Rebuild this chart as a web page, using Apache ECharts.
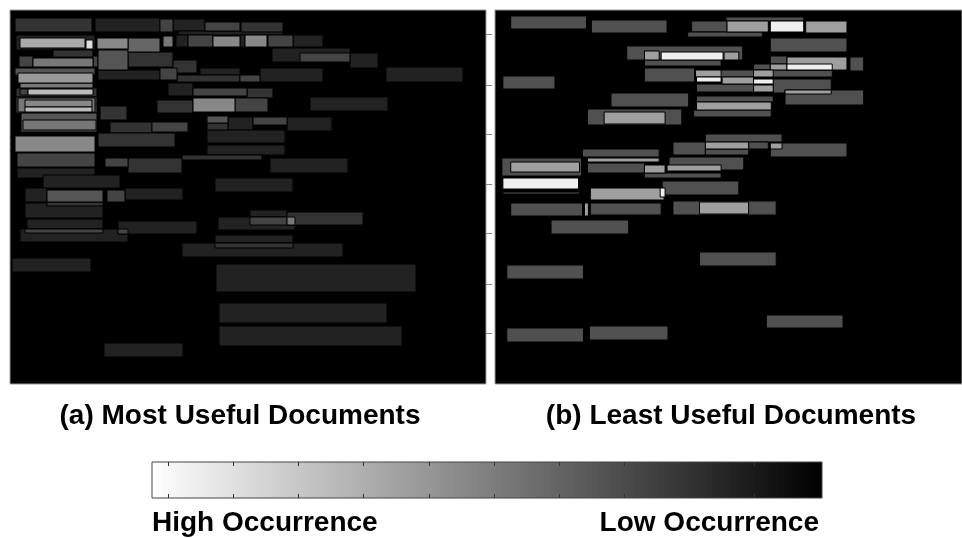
<!DOCTYPE html>
<html>
<head>
<meta charset="utf-8">
<script src="https://cdn.jsdelivr.net/npm/echarts@6/dist/echarts.min.js"></script>
<style>
html,body{margin:0;padding:0;background:#fff;}
#chart{width:962px;height:538px;}
</style>
</head>
<body>
<div id="chart"></div>
<script>
// Occurrence regions [x0, y0, x1, y1, occurrence] (page-position units)
const mostUsefulRegions = [
  [15,18,92,32,3],[95,18,160,32,2],[160,19,173,32,4],[173,19,205,31,2],[205,22,240,31,4],[241,22,283,32,3],[178,31,283,35,2],
  [16,35,95,50,2],[20,38,85,48,10],[86,40,93,49,13],[97,38,128,49,8],[128,38,160,52,6],[163,36,173,47,7],[176,35,188,47,2],
  [188,35,213,47,4],[213,36,240,47,8],[240,35,245,47,2],[245,35,267,47,8],[268,35,293,47,4],[293,35,323,47,2],
  [53,50,93,57,3],
  [272,48,350,62,2],[300,53,350,62,4],[350,53,378,68,2],[19,56,33,67,4],[33,58,93,67,7],[93,56,98,67,4],[98,50,128,70,5],
  [128,52,173,67,3],[173,60,197,73,3],
  [15,68,95,75,5],[18,73,93,83,9],[20,83,93,88,7],[98,70,160,80,2],[160,68,177,80,4],[177,75,240,82,3],[200,68,240,75,2],[240,75,260,82,4],
  [260,68,323,82,2],[386,67,463,82,2],
  [16,88,97,97,3],[20,89,28,95,4],[28,89,93,95,11],[168,83,193,96,2],[193,88,247,96,4],[247,88,273,98,3],
  [16,97,97,113,4],[18,98,95,112,7],[25,100,92,107,8],[25,107,92,112,11],[100,106,127,120,3],[157,100,193,113,3],[193,98,235,112,8],
  [235,98,268,112,4],[310,97,388,111,2],
  [21,113,97,132,5],[23,120,96,130,7],[110,122,152,133,3],[152,122,188,132,4],[207,116,228,123,5],[207,123,228,130,3],
  [253,117,287,125,4],[287,117,332,131,2],[228,117,253,130,2],
  [15,136,95,152,8],[98,133,175,147,3],[207,130,285,143,2],
  [17,153,95,167,4],[105,158,128,167,4],[128,158,182,173,3],[207,145,285,155,2],[182,155,262,160,3],[270,158,348,173,2],
  [17,168,95,178,2],[43,175,120,188,2],[215,178,293,192,2],[25,188,47,202,2],[47,190,103,202,5],[47,202,103,206,3],
  [107,190,125,202,4],[125,188,183,200,2],
  [25,203,103,218,2],[27,219,103,229,2],[20,229,128,242,2],[25,229,103,233,4],[118,221,197,234,2],[118,229,128,234,4],
  [250,210,287,217,2],[287,212,363,225,3],[218,217,295,230,2],[250,217,287,225,4],[287,217,295,225,7],
  [215,235,293,243,2],[182,243,343,257,2],[215,243,293,248,3],
  [12,258,91,272,2],[216,264,416,292,2],[219,303,387,323,2],[219,326,402,346,2],[104,343,183,357,2]
];
const leastUsefulRegions = [
  [511,16,588,29,1],[593,20,670,33,1],[730,17,809,21,1],[695,21,731,32,1],[691,32,767,37,1],[775,38,853,52,1],
  [629,46,747,60,1],[647,60,725,66,1],[647,68,698,82,1],[775,56,792,64,1],[856,57,870,71,1],[758,64,775,70,1],
  [699,70,838,77,1],[700,84,758,92,1],[778,79,837,93,1],[790,90,870,105,1],[503,76,556,89,1],[613,93,692,107,1],
  [700,96,778,102,1],[697,110,776,117,1],[589,109,685,125,1],[709,134,787,142,1],[676,142,709,155,1],[709,149,753,155,1],
  [753,142,773,149,1],[775,143,853,157,1],[584,149,662,157,1],[672,157,748,170,1],[502,158,583,176,1],[589,163,647,173,1],
  [647,173,725,178,1],[503,192,581,194,1],[665,181,743,195,1],[511,203,584,216,1],[592,203,664,215,1],[676,201,781,215,1],
  [552,220,631,234,1],[703,252,781,266,1],[507,265,585,279,1],[771,315,849,328,1],[507,328,585,342,1],[591,326,671,340,1],
  [731,21,773,32,2],[811,21,853,33,2],[647,51,662,60,2],[728,52,743,60,2],[792,57,853,70,2],[775,64,792,70,2],
  [699,70,725,77,2],[758,70,778,77,2],[726,77,758,84,2],[758,85,778,92,2],[790,90,837,94,2],[700,102,776,110,2],
  [606,112,668,124,2],[709,142,753,149,2],[775,143,787,149,2],[589,158,662,162,2],[511,162,581,172,2],[647,165,668,173,2],
  [670,165,725,171,2],[592,188,667,200,2],[586,203,590,216,2],[703,202,753,214,2],
  [775,21,809,32,3],[664,52,727,60,3],[792,64,838,70,3],[700,77,725,82,3],[758,79,778,84,3],[503,178,580,189,3],[663,188,668,197,3]
];
const panelAMaxOccurrence = 15;
const panelBMaxOccurrence = 3.2;
const panelATicks = [34, 85, 134, 184, 233, 284, 333];
const colorbarRange = [0, 670];
const colorbarTicks = [16, 81, 146, 211, 277, 342, 407, 472, 537, 602];
const colorbarColors = ['#ffffff', '#000000'];
const captions = ['(a) Most Useful Documents', '(b) Least Useful Documents'];
const colorbarLabels = ['High Occurrence', 'Low Occurrence'];

const byLevel = arr => arr.slice().sort((a, b) => a[4] - b[4]);

function renderRegion(params, api) {
  const p0 = api.coord([api.value(0), api.value(1)]);
  const p1 = api.coord([api.value(2), api.value(3)]);
  return {
    type: 'rect',
    shape: { x: p0[0], y: Math.min(p0[1], p1[1]), width: p1[0] - p0[0], height: Math.abs(p1[1] - p0[1]) },
    style: { fill: api.visual('color'), stroke: '#000', lineWidth: 1 }
  };
}

function renderColorbar(params, api) {
  const p0 = api.coord([api.value(0), 0]);
  const p1 = api.coord([api.value(1), 1]);
  return {
    type: 'rect',
    shape: { x: p0[0], y: p1[1], width: p1[0] - p0[0], height: p0[1] - p1[1] },
    style: {
      fill: new echarts.graphic.LinearGradient(0, 0, 1, 0, [
        { offset: 0, color: colorbarColors[0] },
        { offset: 1, color: colorbarColors[1] }
      ]),
      stroke: '#444', lineWidth: 1
    }
  };
}

const textFont = { fontFamily: '"Liberation Sans", Arial, sans-serif', fontWeight: 'bold', fontSize: 28, color: '#000' };
const cbTickAxis = (pos) => ({
  gridIndex: 2, type: 'value', min: colorbarRange[0], max: colorbarRange[1], position: pos, z: 10,
  axisLine: { show: false }, axisLabel: { show: false }, splitLine: { show: false },
  axisTick: { show: true, inside: true, length: 4, customValues: colorbarTicks, lineStyle: { color: '#333', width: 1 } }
});

const chart = echarts.init(document.getElementById('chart'), null, { renderer: 'canvas' });
chart.setOption({
  animation: false,
  backgroundColor: '#ffffff',
  title: [
    { text: captions[0], left: 240, top: 402, textAlign: 'center', padding: 0, textStyle: textFont },
    { text: captions[1], left: 731, top: 402, textAlign: 'center', padding: 0, textStyle: textFont },
    { text: colorbarLabels[0], left: 152, top: 509, padding: 0, textStyle: textFont },
    { text: colorbarLabels[1], right: 143, top: 509, padding: 0, textStyle: textFont }
  ],
  grid: [
    { left: 10, top: 10, width: 476, height: 374, show: true, backgroundColor: '#000', borderColor: '#9a9a9a', borderWidth: 1 },
    { left: 495, top: 10, width: 475, height: 374, show: true, backgroundColor: '#000', borderColor: '#9a9a9a', borderWidth: 1 },
    { left: 152, top: 462, width: 670, height: 36, show: false }
  ],
  visualMap: [
    { type: 'continuous', show: false, seriesIndex: 0, dimension: 4, min: 0, max: panelAMaxOccurrence, inRange: { color: ['#000000', '#ffffff'] } },
    { type: 'continuous', show: false, seriesIndex: 1, dimension: 4, min: 0, max: panelBMaxOccurrence, inRange: { color: ['#000000', '#ffffff'] } }
  ],
  xAxis: [
    { gridIndex: 0, type: 'value', min: 10, max: 486, show: false },
    { gridIndex: 1, type: 'value', min: 495, max: 970, show: false },
    cbTickAxis('bottom'),
    cbTickAxis('top')
  ],
  yAxis: [
    { gridIndex: 0, type: 'value', min: 10, max: 384, inverse: true, position: 'right',
      axisLine: { show: false }, axisLabel: { show: false }, splitLine: { show: false },
      axisTick: { show: true, inside: false, length: 6, customValues: panelATicks, lineStyle: { color: '#888' } } },
    { gridIndex: 1, type: 'value', min: 10, max: 384, inverse: true, show: false },
    { gridIndex: 2, type: 'value', min: 0, max: 1, show: false }
  ],
  series: [
    { type: 'custom', name: 'Most Useful', xAxisIndex: 0, yAxisIndex: 0, clip: true,
      renderItem: renderRegion, encode: { x: [0, 2], y: [1, 3] }, data: byLevel(mostUsefulRegions), z: 2 },
    { type: 'custom', name: 'Least Useful', xAxisIndex: 1, yAxisIndex: 1, clip: true,
      renderItem: renderRegion, encode: { x: [0, 2], y: [1, 3] }, data: byLevel(leastUsefulRegions), z: 2 },
    { type: 'custom', name: 'Colorbar', xAxisIndex: 2, yAxisIndex: 2, z: 1,
      renderItem: renderColorbar, encode: { x: [0, 1] }, data: [colorbarRange] }
  ]
});
</script>
</body>
</html>
